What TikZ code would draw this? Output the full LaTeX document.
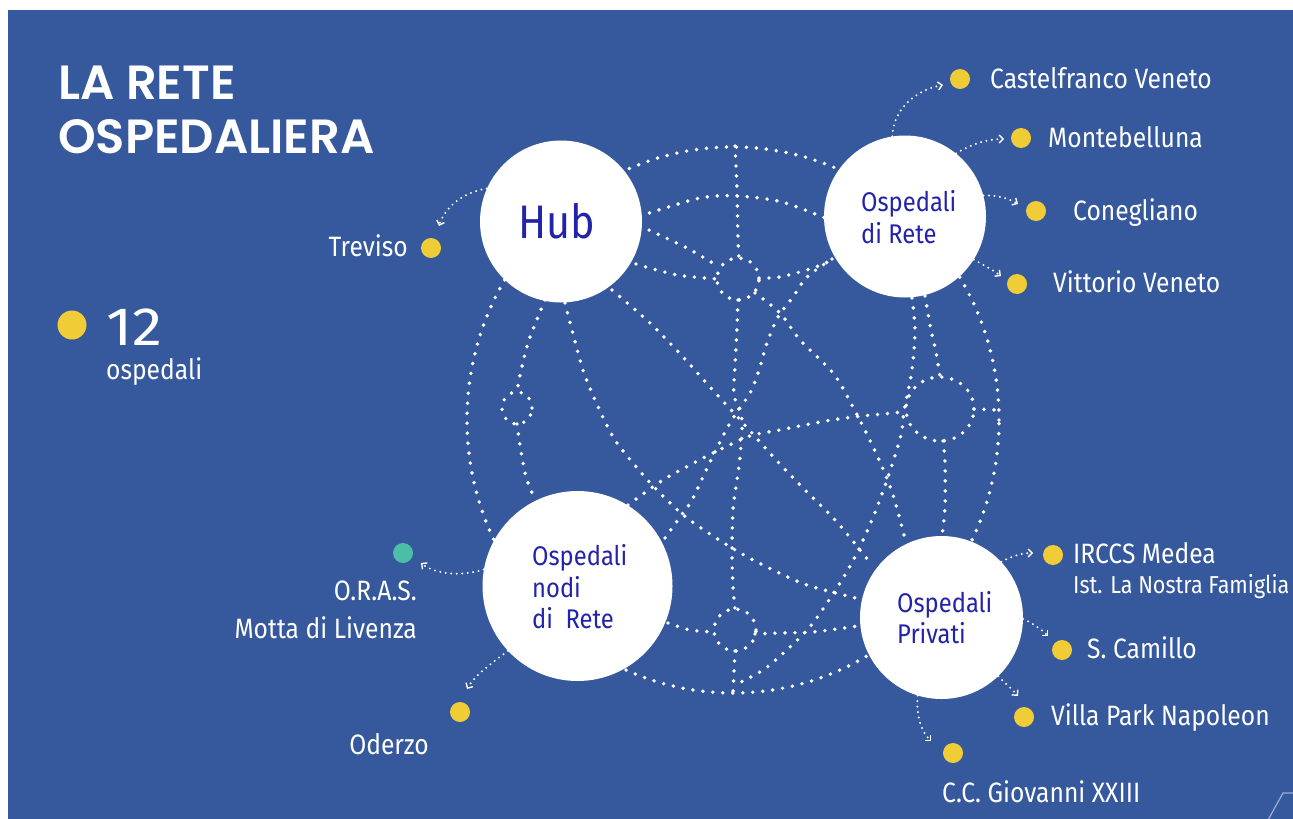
\documentclass[tikz,border=0pt]{standalone}
\usepackage{fontspec}
\setmainfont{Fira Sans}[FakeStretch=0.88]
\newfontfamily\numfont{Fira Sans}[FakeStretch=1.12]
\newfontfamily\titlefont{Poppins SemiBold}
\usetikzlibrary{arrows.meta}
\definecolor{bg}{RGB}{54,88,156}
\definecolor{yel}{RGB}{240,204,54}
\definecolor{tealdot}{RGB}{76,190,168}
\definecolor{navytext}{RGB}{35,35,170}
\definecolor{deco}{RGB}{150,170,215}
\begin{document}
\begin{tikzpicture}[x=1pt,y=-1pt,
  net/.style={draw=white, line width=3.9pt, line cap=round, dash pattern=on 0pt off 10pt},
  arr/.style={draw=white, line width=2.2pt, line cap=round, dash pattern=on 0pt off 5.5pt,
    -{Straight Barb[length=4pt,width=8pt,line width=1.4pt]}},
  hosp/.style={circle, fill=white, inner sep=0pt, minimum size=#1},
  ydot/.style={circle, fill=yel, inner sep=0pt, minimum size=20pt},
  lab/.style={text=white, font=\fontsize{28}{30}\selectfont, inner sep=0pt},
  ctext/.style={text=navytext, font=\fontsize{27}{30}\selectfont, inner sep=0pt, anchor=base west},
  ttl/.style={text=white, font=\titlefont\fontsize{48}{52}\selectfont, inner sep=0pt, anchor=base west},
]
% background
\useasboundingbox (0,0) rectangle (1293,819);
\fill[white] (0,0) rectangle (1293,819);
\fill[bg] (8,10) rectangle (1293,819);
\draw[deco, line width=1.3pt] (1268,820) -- (1283,793) -- (1294,793);

% ---- network (geodesic sphere) ----
\draw[net] (733,420) ellipse [x radius=266pt, y radius=273pt];
\draw[net] plot[smooth] coordinates {(640,216) (700,198) (738,196) (782,202) (830,220)};
\draw[net] plot[smooth] coordinates {(735,146) (737,190) (738,240) (739,258)};
\draw[net] (738,279) circle [radius=21pt];
\draw[net] plot[smooth] coordinates {(738,300) (737,327) (735,367) (734,395) (742,420) (740,457) (737,480) (733,510) (732,553) (733,587) (735,609)};
\draw[net] (735,630) circle [radius=21pt];
\draw[net] (735,651) -- (733,693);
\draw[net] plot[smooth] coordinates {(640,226) (687,248) (719,267)};
\draw[net] plot[smooth] coordinates {(636,264) (677,275) (718,279)};
\draw[net] plot[smooth] coordinates {(759,278) (780,277) (813,268) (832,260)};
\draw[net] plot[smooth] coordinates {(832,259) (807,277) (793,297) (778,317) (767,343) (760,367) (750,393) (730,423) (710,462) (692,500) (680,517) (660,545)};
\draw[net] plot[smooth] coordinates {(612,290) (650,323) (683,357) (710,387) (743,423) (778,462) (807,492) (837,522) (868,560)};
\draw[net] plot[smooth] coordinates {(755,293) (780,313) (800,340) (833,373) (853,407) (876,453) (892,492) (904,535)};
\draw[net] plot[smooth] coordinates {(628,505) (663,480) (690,465) (715,452) (750,436) (780,430) (820,422) (853,417) (893,413) (906,411)};
\draw[net] (940,409) ellipse [x radius=34pt, y radius=32pt];
\draw[net] (974,409) -- (999,410);
\draw[net] plot[smooth] coordinates {(925,296) (931,330) (936,352) (940,377)};
\draw[net] plot[smooth] coordinates {(943,441) (945,463) (945,507) (942,536)};
\draw[net] plot[smooth] coordinates {(912,298) (915,330) (912,370) (904,411) (901,435) (888,477) (874,515) (857,553) (840,583) (813,623) (790,647) (763,670) (735,685)};
\draw[net] plot[smooth] coordinates {(565,303) (572,330) (583,370) (595,400) (613,437) (633,463) (655,488) (687,518) (732,548) (767,567) (807,585) (860,599)};
\draw[net] plot[smooth] coordinates {(545,300) (529,340) (520,375) (517,392)};
\draw[net] (517,408) ellipse [x radius=15pt, y radius=16pt];
\draw[net] plot[smooth] coordinates {(517,424) (520,445) (526,477) (534,497)};
\draw[net] plot[smooth] coordinates {(668,623) (690,630) (714,632)};
\draw[net] plot[smooth] coordinates {(755,634) (780,633) (813,632) (858,626)};

% ---- hospital circles ----
\node[hosp=162pt] (hub) at (561,221.5) {};
\node[hosp=162pt] (rete) at (905,216.5) {};
\node[hosp=190pt] (nodi) at (577.5,586) {};
\node[hosp=163pt] (priv) at (941.5,617.5) {};

\node[text=navytext, font=\fontsize{47}{50}\selectfont, inner sep=0pt] (hubtxt) at (557,221) {Hub};
\node[ctext] (rete1) at (861,211) {Ospedali};
\node[ctext] (rete2) at (861,243) {di Rete};
\node[ctext] (nodi1) at (532,565) {Ospedali};
\node[ctext] (nodi2) at (532,597) {nodi};
\node[ctext] (nodi3) at (532,628) {di\ \ Rete};
\node[ctext] (priv1) at (897,612) {Ospedali};
\node[ctext] (priv2) at (897,643) {Privati};

% ---- title and count ----
\node[ttl] (t1) at (58,99) {LA RETE};
\node[ttl] (t2) at (58,153) {OSPEDALIERA};
\node[circle, fill=yel, inner sep=0pt, minimum size=29pt] (bigdot) at (72,325) {};
\node[text=white, font=\numfont\fontsize{54}{56}\selectfont, inner sep=0pt, anchor=base west] (n12) at (106,345) {12};
\node[lab, anchor=base west] (osp) at (106,379) {ospedali};

% ---- dots and labels ----
\node[ydot] (dTre) at (431,248) {};
\node[lab, anchor=base east] (lTre) at (408,256) {Treviso};
\node[ydot] (dCas) at (960,79) {};
\node[lab, anchor=base west] (lCas) at (990,88) {Castelfranco Veneto};
\node[ydot] (dMon) at (1021,138) {};
\node[lab, anchor=base west] (lMon) at (1048,147) {Montebelluna};
\node[ydot] (dCon) at (1036,211) {};
\node[lab, anchor=base west] (lCon) at (1073,220) {Conegliano};
\node[ydot] (dVit) at (1017,284) {};
\node[lab, anchor=base west] (lVit) at (1053,292) {Vittorio Veneto};
\node[ydot] (dIrc) at (1053,555) {};
\node[lab, anchor=base west] (lIrc) at (1073,563) {IRCCS Medea};
\node[text=white, font=\fontsize{24.5}{26}\selectfont, inner sep=0pt, anchor=base west] (lIst) at (1073,593) {Ist. La Nostra Famiglia};
\node[ydot] (dCam) at (1062,650) {};
\node[lab, anchor=base west] (lCam) at (1087,658) {S. Camillo};
\node[ydot] (dVil) at (1024,717) {};
\node[lab, anchor=base west] (lVil) at (1051,725) {Villa Park Napoleon};
\node[ydot] (dGio) at (953,753) {};
\node[lab, anchor=base west] (lGio) at (942,802) {C.C. Giovanni XXIII};
\node[circle, fill=tealdot, inner sep=0pt, minimum size=20pt] (dOra) at (403,553) {};
\node[lab, anchor=base east] (lOra) at (417,600) {O.R.A.S.};
\node[lab, anchor=base east] (lMot) at (417,638) {Motta di Livenza};
\node[ydot] (dOde) at (460,712) {};
\node[lab, anchor=base] (lOde) at (389,754) {Oderzo};

% ---- arrow ends ----
\coordinate (eTre) at (439,226);
\coordinate (eCas) at (943,85);
\coordinate (eMon) at (1004,139);
\coordinate (eCon) at (1018,204);
\coordinate (eVit) at (1001,276);
\coordinate (eIrc) at (1033,553);
\coordinate (eCam) at (1048,636);
\coordinate (eVil) at (1018,696);
\coordinate (eGio) at (931,741);
\coordinate (eOra) at (421,563);
\coordinate (eOde) at (467,689);

\draw[arr] (hub.156) .. controls (465,192) and (446,205) .. (eTre);
\draw[arr] (rete.99) .. controls (893,110) and (915,90) .. (eCas);
\draw[arr] (rete.51) .. controls (970,145) and (986,139) .. (eMon);
\draw[arr] (rete.15) .. controls (996,195) and (1008,198) .. (eCon);
\draw[arr] (rete.-32) .. controls (985,266) and (993,270) .. (eVit);
\draw[arr] (priv.43) .. controls (1012,556) and (1022,553) .. (eIrc);
\draw[arr] (priv.-1) .. controls (1030,622) and (1040,628) .. (eCam);
\draw[arr] (priv.-46) .. controls (1006,684) and (1012,689) .. (eVil);
\draw[arr] (priv.-107) .. controls (916,718) and (922,732) .. (eGio);
\draw[arr] (nodi.170) .. controls (460,577) and (435,574) .. (eOra);
\draw[arr] (nodi.-137) .. controls (485,668) and (474,677) .. (eOde);
\end{tikzpicture}
\end{document}
